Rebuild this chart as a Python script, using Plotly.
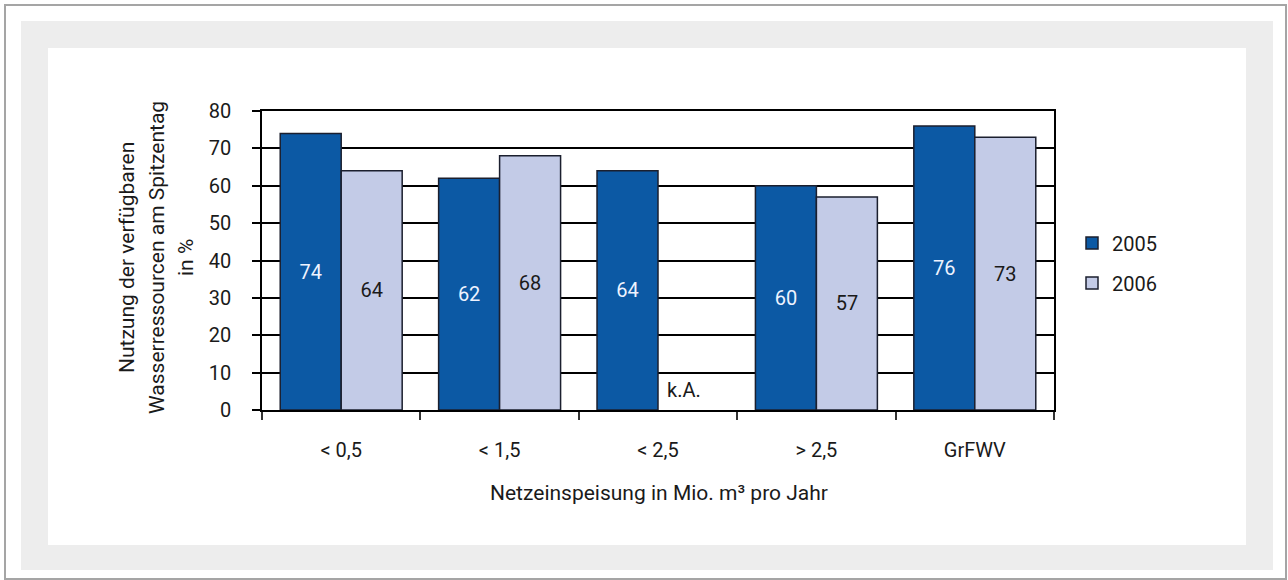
import plotly.graph_objects as go

# Kategorien: Netzeinspeisung in Mio. m³ pro Jahr
categories = ["< 0,5", "< 1,5", "< 2,5", "> 2,5", "GrFWV"]
values_2005 = [74, 62, 64, 60, 76]
values_2006 = [64, 68, None, 57, 73]
y_ticks = [0, 10, 20, 30, 40, 50, 60, 70, 80]

W, H = 1288, 580
# plot area in pixels
PL, PR, PT, PB = 262, 1054, 111, 410
FONT = "Roboto, 'DejaVu Sans', sans-serif"
FS = 20
FS_TITLE = 21
TXT = "#1a1a1a"


def px_x(p):
    return (p - PL) / (PR - PL)


def px_y(p):
    return (PB - p) / (PB - PT)


def rect(x0, y0, x1, y1, fill, line_color=None, line_width=0):
    return dict(
        type="rect", xref="paper", yref="paper", layer="below",
        x0=px_x(x0), x1=px_x(x1), y0=px_y(y1), y1=px_y(y0),
        fillcolor=fill,
        line=dict(color=line_color or fill, width=line_width),
    )


fig = go.Figure()

fig.add_trace(go.Bar(
    name="2005", x=categories, y=values_2005,
    marker=dict(color="#0c59a4", line=dict(color="#1b1f2e", width=1.5)),
    text=[str(v) for v in values_2005], textposition="inside",
    insidetextanchor="middle",
    textfont=dict(family=FONT, size=FS, color="#eef3ff"),
    legendgroup="a",
))
fig.add_trace(go.Bar(
    name="2006", x=categories, y=values_2006,
    marker=dict(color="#c3cbe7", line=dict(color="#1b1f2e", width=1.5)),
    text=["" if v is None else str(v) for v in values_2006],
    textposition="inside", insidetextanchor="middle",
    textfont=dict(family=FONT, size=FS, color=TXT),
    legendgroup="b",
))

shapes = [
    rect(5, 5, 1286, 579, "#ffffff", "#a5a5a5", 2),
    rect(21, 21, 1273, 570, "#ededed"),
    rect(48, 48, 1246, 545, "#ffffff"),
]

annotations = [
    # keine Angabe für 2006 bei < 2,5
    dict(x="< 2,5", y=5.3, xref="x", yref="y", xshift=26, text="k.A.",
         showarrow=False, xanchor="center", yanchor="middle",
         font=dict(family=FONT, size=FS, color=TXT)),
    dict(x=px_x(659), y=px_y(493), xref="paper", yref="paper",
         xanchor="center", yanchor="middle",
         text="Netzeinspeisung in Mio. m³ pro Jahr", showarrow=False,
         font=dict(family=FONT, size=FS_TITLE, color=TXT)),
]
for xp, line in [(127, "Nutzung der verfügbaren"),
                 (157, "Wasserressourcen am Spitzentag"),
                 (186, "in %")]:
    annotations.append(dict(
        x=px_x(xp), y=px_y(258), xref="paper", yref="paper", text=line,
        textangle=-90, showarrow=False, xanchor="center", yanchor="middle",
        font=dict(family=FONT, size=FS_TITLE, color=TXT),
    ))

fig.update_layout(
    width=W, height=H,
    margin=dict(l=PL, r=W - PR, t=PT, b=H - PB, pad=0),
    paper_bgcolor="#ffffff", plot_bgcolor="rgba(0,0,0,0)",
    barmode="group", bargap=0.23, bargroupgap=0,
    font=dict(family=FONT, size=FS, color=TXT),
    showlegend=True,
    legend=dict(x=px_x(1072), y=px_y(263), xanchor="left", yanchor="middle",
                xref="paper", yref="paper",
                font=dict(family=FONT, size=FS, color=TXT),
                tracegroupgap=11, bgcolor="rgba(0,0,0,0)"),
    shapes=shapes, annotations=annotations,
    uniformtext=dict(minsize=FS, mode="show"),
)
fig.update_xaxes(
    type="category", showline=True, linecolor="#000000", linewidth=1.5,
    mirror=True, ticks="outside", tickson="boundaries", ticklen=8,
    tickcolor="#333333", tickwidth=1.5, showgrid=False,
    ticklabelstandoff=21,
    tickfont=dict(family=FONT, size=FS, color=TXT),
)
fig.update_yaxes(
    range=[0, 80], tickvals=y_ticks, showline=True, linecolor="#000000",
    linewidth=1.5, mirror=True, ticks="outside", ticklen=8,
    tickcolor="#000000", tickwidth=1.5, showgrid=True, gridcolor="#000000",
    gridwidth=2, zeroline=False, ticklabelstandoff=17,
    tickfont=dict(family=FONT, size=FS, color=TXT),
)

fig.write_html("out.html")
